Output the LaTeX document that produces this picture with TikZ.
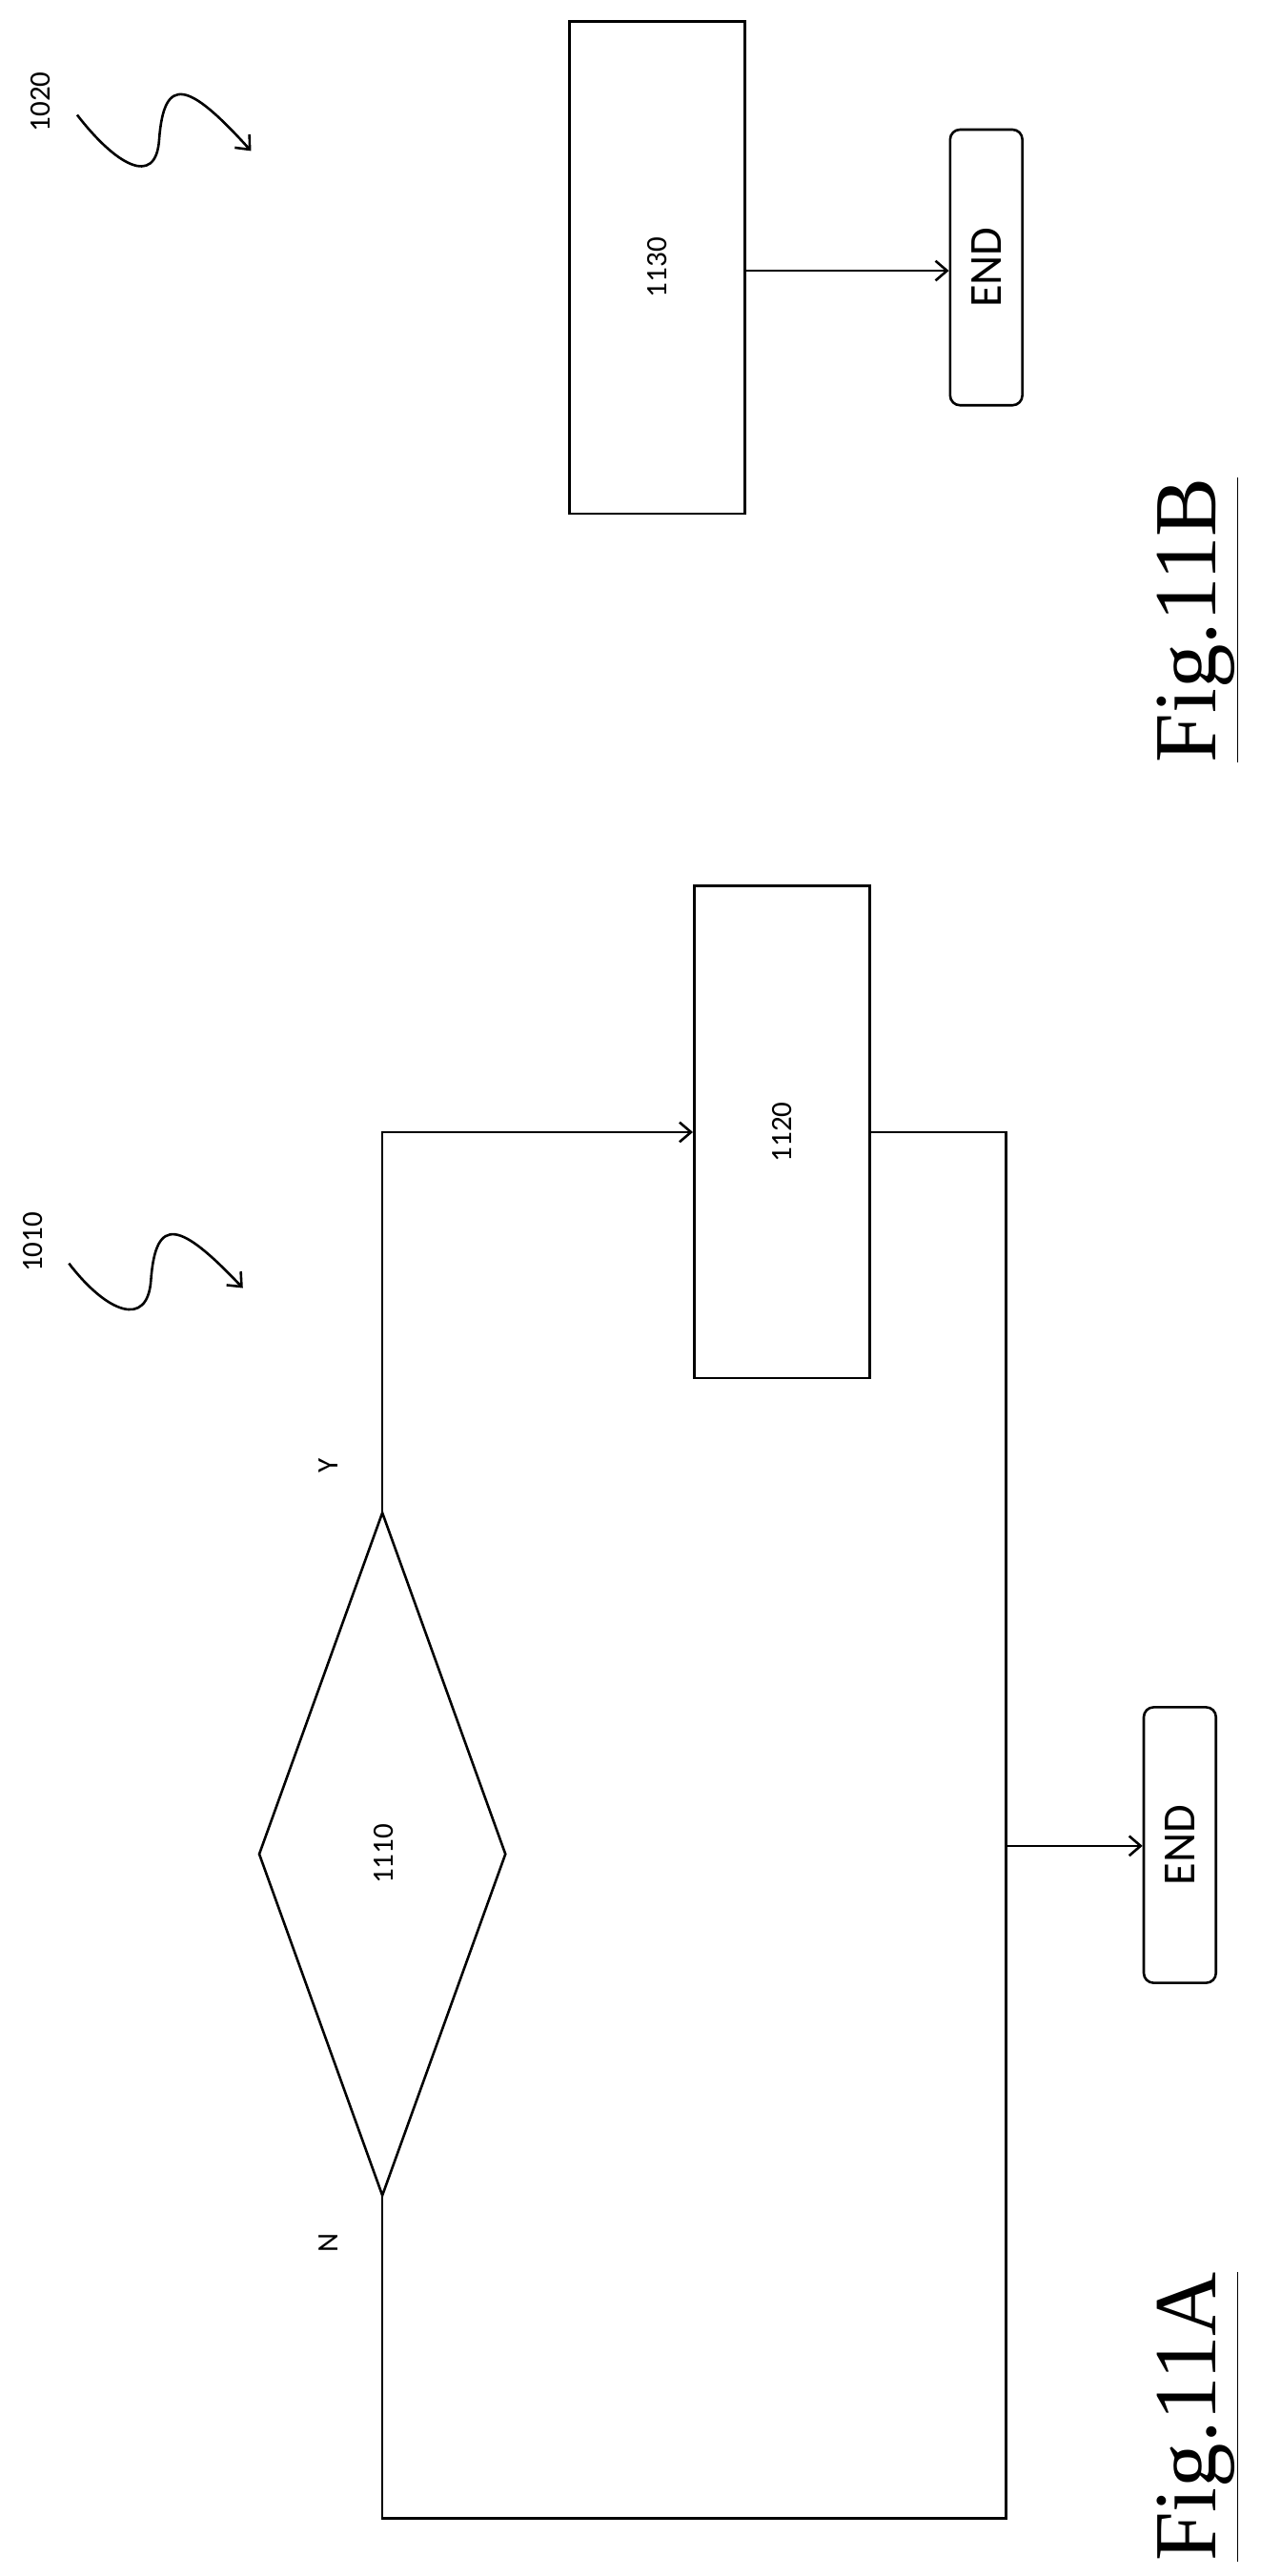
\documentclass[tikz,border=0pt]{standalone}
\usepackage{fontspec}
\setmainfont{Carlito}
\newfontfamily\figfont{Liberation Serif}
\usetikzlibrary{arrows.meta}
\begin{document}
\begin{tikzpicture}[x=1pt,y=-1pt,line width=1.5pt,
  box/.style={draw,rectangle,minimum width=107pt,minimum height=300pt,inner sep=0pt},
  term/.style={draw,rounded corners=6pt,minimum width=44pt,minimum height=168pt,inner sep=0pt},
  num/.style={rotate=90,font=\fontsize{18}{18}\selectfont},
  arr/.style={-{Straight Barb[length=7pt,width=12pt]}},
  fig/.style={rotate=90,font=\figfont\fontsize{54}{54}\selectfont,inner sep=0pt}]
\useasboundingbox (0,0) rectangle (768,1570);
% Fig 11B
\node[box] (b1130) at (400.5,163) {};
\node[num] at (b1130) {1130};
\node[term] (endb) at (601,163) {};
\node[rotate=90,font=\fontsize{28}{28}\selectfont] at (endb) {END};
\draw[arr] (454,165) -- (endb.west |- 0,165);
\node[num] (l1020) at (25,62) {1020};
\draw[arr] (47,70) .. controls (70,100) and (95,115) .. (97,85) .. controls (100,45) and (115,50) .. (153,92);
\node[fig] (f11b) at (730,378) {\underline{Fig.11B}};
% Fig 11A
\node[box] (b1120) at (476.5,690) {};
\node[num] at (b1120) {1120};
\draw (233,922) -- (158,1130) -- (233,1338) -- (308,1130) -- cycle;
\coordinate (dtop) at (233,922);
\coordinate (dbot) at (233,1338);
\node[num] (d1110) at (234,1130) {1110};
\node[term] (enda) at (719,1124.5) {};
\node[rotate=90,font=\fontsize{28}{28}\selectfont] at (enda) {END};
\node[num] at (200,893) {Y};
\node[num] at (200,1367) {N};
\coordinate (br) at (613,1125);
\draw[arr] (dtop) -- (233,690) -- (b1120.west);
\draw (b1120.east) -- (613,690) -- (613,1535) -- (233,1535) -- (dbot);
\draw[arr] (br) -- (enda.west |- br);
\node[num] (l1010) at (20,757) {1010};
\draw[arr] (42,770) .. controls (65,800) and (90,810) .. (92,780) .. controls (95,740) and (110,745) .. (148,785);
\node[fig] (f11a) at (730,1473) {\underline{Fig.11A}};
\end{tikzpicture}
\end{document}
